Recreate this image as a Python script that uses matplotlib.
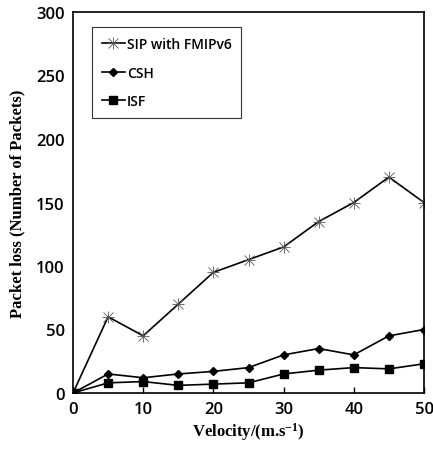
import matplotlib
matplotlib.use("Agg")
import matplotlib.pyplot as plt
from matplotlib.lines import Line2D

velocity = [0, 5, 10, 15, 20, 25, 30, 35, 40, 45, 50]
sip_fmipv6 = [0, 60, 45, 70, 95, 105, 115, 135, 150, 170, 150]
csh = [0, 15, 12, 15, 17, 20, 30, 35, 30, 45, 50]
isf = [0, 8, 9, 6, 7, 8, 15, 18, 20, 19, 23]
labels = ["SIP with FMIPv6", "CSH", "ISF"]

plt.rcParams["mathtext.fontset"] = "custom"
plt.rcParams["mathtext.rm"] = "Liberation Serif:bold"
plt.rcParams["mathtext.bf"] = "Liberation Serif:bold"
plt.rcParams["mathtext.default"] = "bf"

fig = plt.figure(figsize=(4.33, 4.52), dpi=100)
ax = fig.add_axes([73/433, 1-394/452, (424-73)/433, (394-13)/452])

star = dict(color="black", lw=1.2, ms=7, mew=0.6, mec="#555555")
ax.plot(velocity, sip_fmipv6, marker="x", label=labels[0], **star)
ax.plot(velocity, sip_fmipv6, marker="+", **{**star, "lw": 0, "ms": 8})
ax.plot(velocity, csh, color="black", lw=1.2, marker="D", ms=4.5, label=labels[1])
ax.plot(velocity, isf, color="black", lw=1.2, marker="s", ms=6, label=labels[2])

ax.set_xlim(0, 50)
ax.set_ylim(0, 300)
ax.set_xticks(range(0, 51, 10))
ax.set_yticks(range(0, 301, 50))
ax.tick_params(direction="in", length=4, width=1, labelsize=12, pad=6)
ax.tick_params(axis="y", length=0)
for lab in ax.get_xticklabels() + ax.get_yticklabels():
    lab.set_fontfamily("Open Sans")
    lab.set_fontweight("semibold")
for s in ax.spines.values():
    s.set_linewidth(1.2)

ax.set_xlabel("Velocity/(m.s$^{-1}$)", fontfamily="Liberation Serif",
              fontweight="bold", fontsize=12, labelpad=2)
ax.set_ylabel("Packet loss (Number of Packets)", fontfamily="Liberation Serif",
              fontweight="bold", fontsize=12, labelpad=8)

h_sip = (Line2D([], [], marker="x", **star),
         Line2D([], [], marker="+", **{**star, "lw": 0, "ms": 8}))
handles, _ = ax.get_legend_handles_labels()
leg = ax.legend([h_sip, handles[1], handles[2]], labels, loc="upper left",
                bbox_to_anchor=(0.054, 0.96), frameon=True, fancybox=False,
                edgecolor="black", handlelength=1.7, handletextpad=0.1,
                labelspacing=1.05, borderpad=0.7, borderaxespad=0,
                prop={"family": "Open Sans", "weight": "semibold", "size": 10})
leg.get_frame().set_linewidth(0.8)

fig.savefig("out.png", dpi=100)
